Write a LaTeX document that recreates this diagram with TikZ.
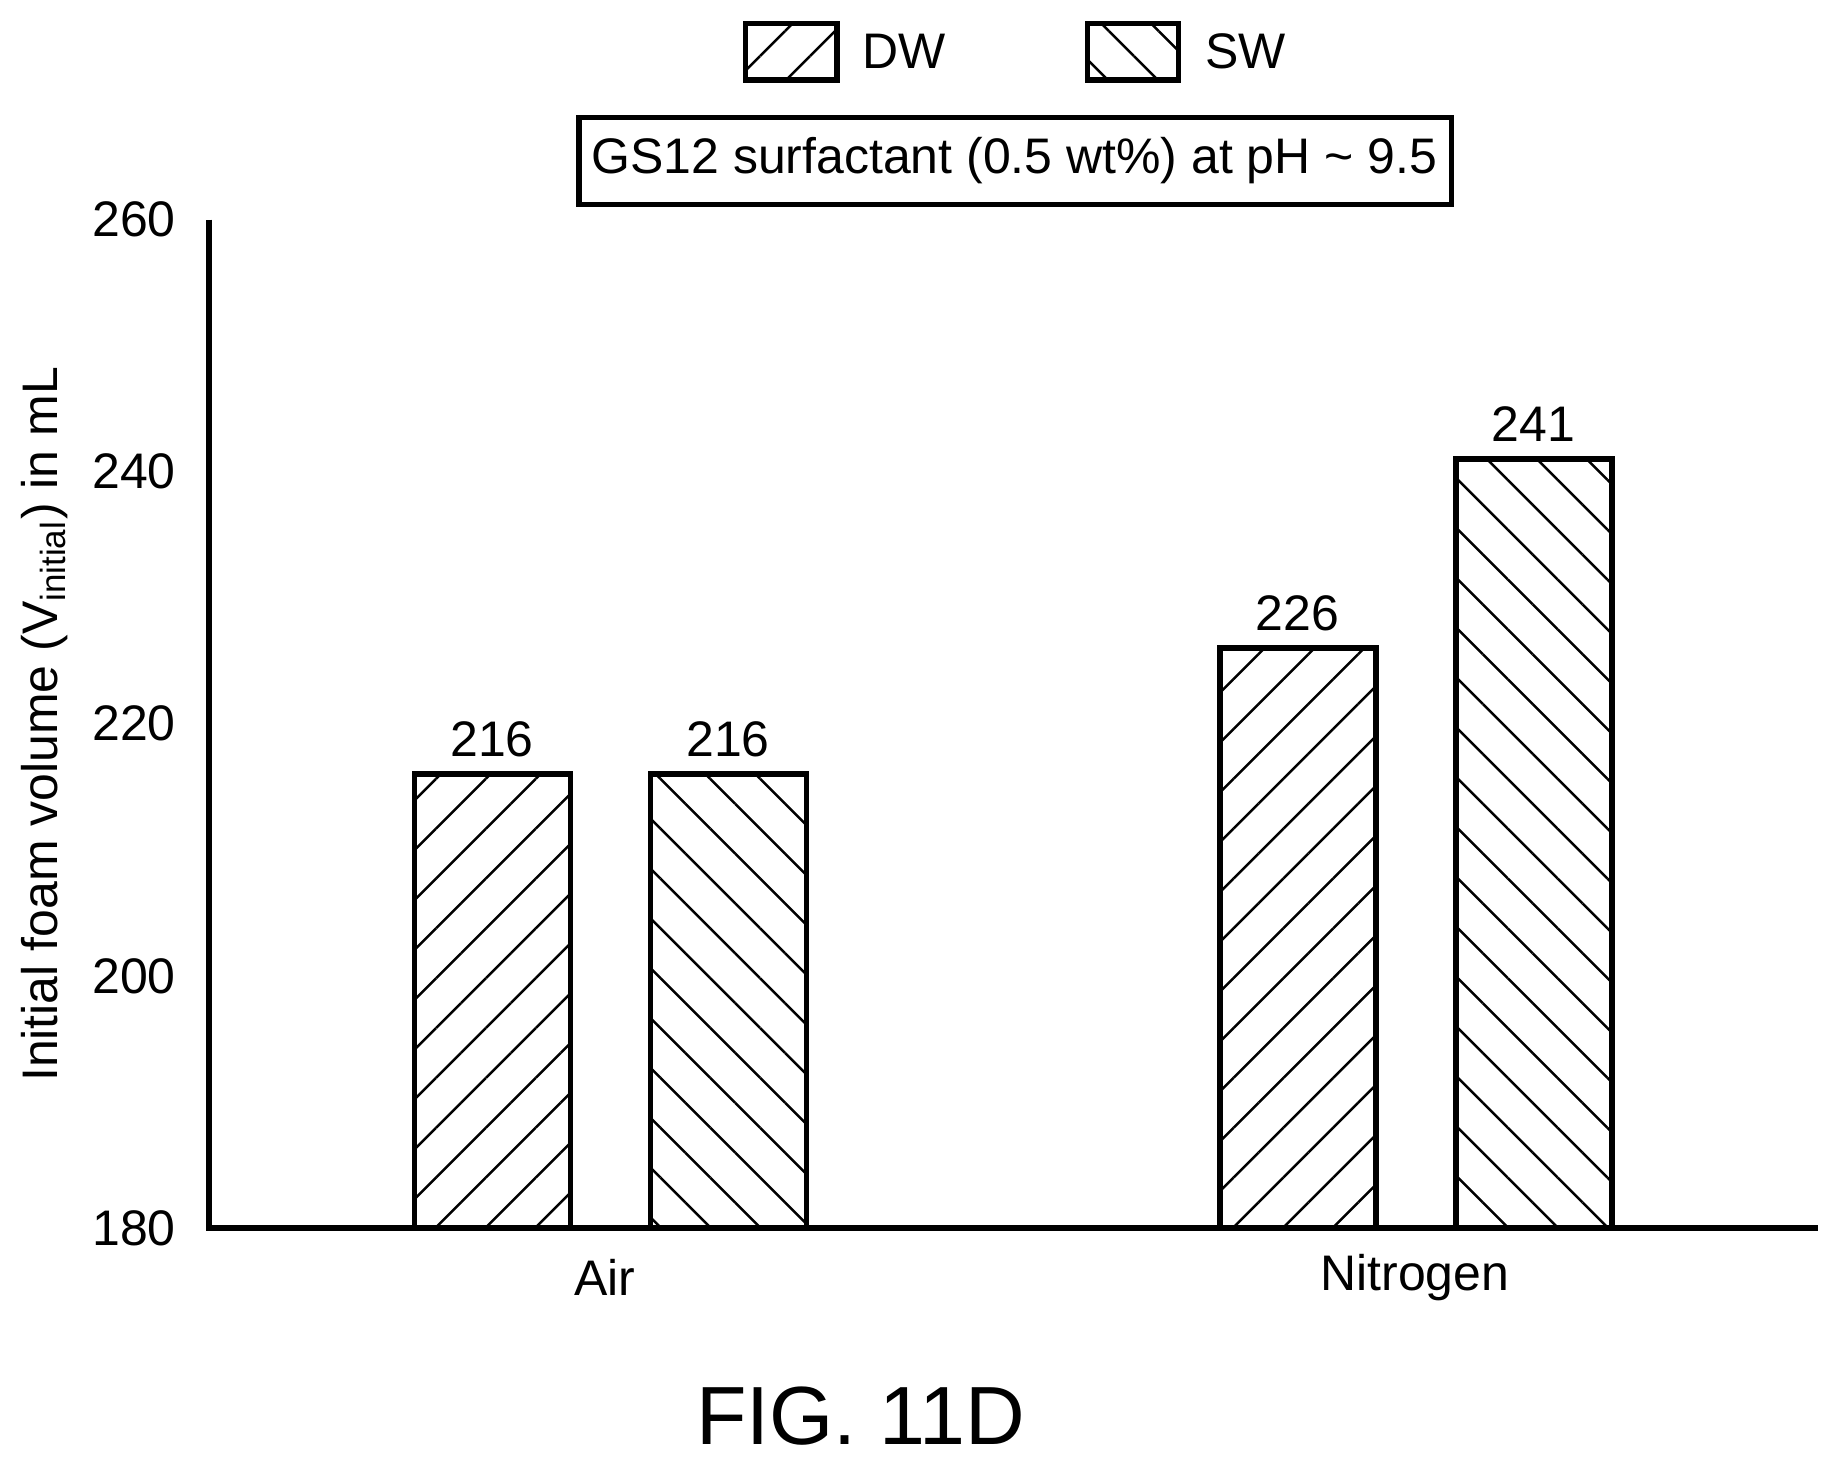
\documentclass[tikz,border=0pt]{standalone}
\usepackage{fontspec}
\setmainfont{Liberation Sans}
\usetikzlibrary{patterns.meta}
\tikzset{
  dwbar/.style={draw, line width=1.3pt, pattern={Lines[angle=45,distance=0.3cm,line width=0.6pt]}},
  swbar/.style={draw, line width=1.3pt, pattern={Lines[angle=-45,distance=0.3cm,line width=0.6pt]}},
  lbl/.style={font=\fontsize{12.1}{14}\selectfont},
}
% value to pixel row
\def\vy#1{1046-(#1-180)*10.74}

\begin{document}
\begin{tikzpicture}[x=0.01cm, y=-0.01cm]
	\useasboundingbox (0,0) rectangle (1568,1247);

	% axes
	\draw[line width=1.3pt] (178,187) -- (178,1046) -- (1548,1046);
	\foreach \v in {180,200,...,260}
		\node[lbl, anchor=east] at (162,{\vy{\v}}) {\v};

	% bars
	\foreach \x/\v/\s in {353/216/dwbar, 554/216/swbar, 1039/226/dwbar, 1240/241/swbar}{
		\draw[\s] (\x,1046) rectangle (\x+133,{\vy{\v}});
		\node[lbl, anchor=south] at (\x+66,{\vy{\v}-2}) {\v};
	}

	\node[lbl] (air) at (515,1088) {Air};
	\node[lbl] (nitro) at (1205,1088) {Nitrogen};

	\node[lbl, rotate=90] (ylab) at (38,617) {Initial foam volume (V\textsubscript{initial}) in mL};

	% legend
	\draw[dwbar] (635,20) rectangle (713,68);
	\node[lbl, anchor=west] (dw) at (722,44) {DW};
	\draw[swbar] (926,20) rectangle (1004,68);
	\node[lbl, anchor=west] (sw) at (1014,44) {SW};

	\draw[line width=1.3pt] (493,100) rectangle (1236,174);
	\node[lbl] (title) at (864,137)
		{GS12 surfactant (0.5 wt\%) at pH \char`\~{} 9.5};

	\node[font=\fontsize{20}{24}\selectfont] (fig) at (733,1206) {FIG. 11D};
\end{tikzpicture}
\end{document}
